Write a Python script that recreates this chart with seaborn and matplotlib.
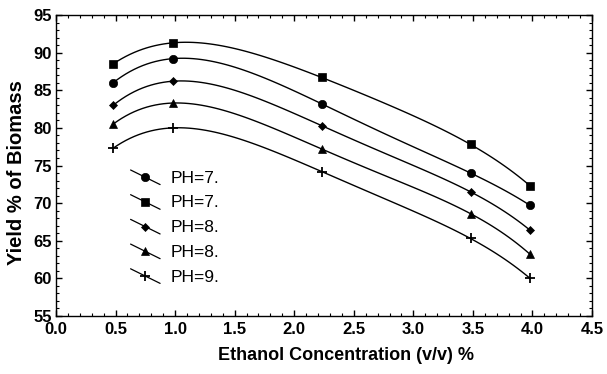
import matplotlib
matplotlib.use("Agg")
import matplotlib.pyplot as plt
from matplotlib.lines import Line2D
from matplotlib.legend_handler import HandlerLine2D
from matplotlib.ticker import MultipleLocator
import seaborn as sns
import numpy as np
import pandas as pd

# ---- data ----
conc = [0.48, 0.98, 2.23, 3.48, 3.98]
ph7_circle = [86.0, 89.2, 83.2, 74.0, 69.7]
ph7_square = [88.5, 91.3, 86.7, 77.8, 72.3]
ph8_diamond = [83.0, 86.2, 80.3, 71.5, 66.4]
ph8_triangle = [80.5, 83.3, 77.2, 68.6, 63.2]
ph9_plus = [77.3, 80.0, 74.2, 65.3, 60.0]
labels = ["PH=7.", "PH=7.", "PH=8.", "PH=8.", "PH=9."]
xticks = [0.0, 0.5, 1.0, 1.5, 2.0, 2.5, 3.0, 3.5, 4.0, 4.5]
yticks = [55, 60, 65, 70, 75, 80, 85, 90, 95]

series = [ph7_circle, ph7_square, ph8_diamond, ph8_triangle, ph9_plus]
markers = ["o", "s", "D", "^", "+"]
msizes = [6.0, 6.0, 4.2, 6.0, 7.5]

sns.set_theme(style="white")
plt.rcParams["font.family"] = ["Liberation Sans", "DejaVu Sans"]
plt.rcParams["text.color"] = "black"
plt.rcParams["axes.labelcolor"] = "black"
plt.rcParams["xtick.color"] = "black"
plt.rcParams["ytick.color"] = "black"

fig = plt.figure(figsize=(6.07, 3.74), dpi=100)
ax = fig.add_axes([56 / 607, 1 - 316 / 374, (592 - 56) / 607, (316 - 15) / 374])

handles = []
for vals, m, ms, lab in zip(series, markers, msizes, labels):
    df = pd.DataFrame({"x": conc, "y": vals})
    sns.regplot(data=df, x="x", y="y", order=4, ci=None, ax=ax, scatter=False,
                truncate=True, line_kws=dict(color="black", lw=1.0))
    ax.plot(df["x"], df["y"], linestyle="none", marker=m, markersize=ms,
            color="black", markeredgewidth=1.3 if m == "+" else 0.5)
    handles.append(Line2D([], [], marker=m, markersize=ms, color="black",
                          markeredgewidth=1.3 if m == "+" else 0.5, lw=0.9))


class DiagHandler(HandlerLine2D):
    def create_artists(self, legend, orig_handle, xdescent, ydescent, width,
                       height, fontsize, trans):
        x0 = -xdescent
        x1 = x0 + width
        y0 = -ydescent
        ln = Line2D([x0, x1], [y0 + height * 1.05, y0 - height * 0.15],
                    color="black", lw=0.9, transform=trans)
        mk = Line2D([(x0 + x1) / 2], [y0 + height * 0.45], linestyle="none",
                    marker=orig_handle.get_marker(),
                    markersize=orig_handle.get_markersize(),
                    markeredgewidth=orig_handle.get_markeredgewidth(),
                    color="black", transform=trans)
        return [ln, mk]


ax.legend(handles=handles, labels=labels, loc="upper left",
          bbox_to_anchor=(0.11, 0.535), frameon=False, fontsize=12.5,
          handlelength=1.7, handletextpad=0.6, labelspacing=0.55,
          handler_map={Line2D: DiagHandler()})

ax.set_xlim(0.0, 4.5)
ax.set_ylim(55, 95)
ax.set_xticks(xticks)
ax.set_yticks(yticks)
ax.set_xticklabels([f"{t:.1f}" for t in xticks])
ax.set_yticklabels([str(t) for t in yticks])
ax.xaxis.set_minor_locator(MultipleLocator(0.1))
ax.yaxis.set_minor_locator(MultipleLocator(1))
ax.tick_params(which="both", direction="in", top=True, right=True,
               bottom=True, left=True, color="black")
ax.tick_params(which="major", length=4, width=1.0, labelsize=12, pad=3)
ax.tick_params(axis="x", which="major", pad=4)
ax.tick_params(which="minor", length=2, width=0.8)
for lbl in ax.get_xticklabels() + ax.get_yticklabels():
    lbl.set_fontweight("bold")
for s in ax.spines.values():
    s.set_color("black")
    s.set_linewidth(1.0)

ax.set_xlabel("Ethanol Concentration (v/v) %", fontsize=13, fontweight="bold")
ax.set_ylabel("Yield % of Biomass", fontsize=14.5, fontweight="bold")
ax.xaxis.set_label_coords((346 - 56) / 536, (316 - 347) / 301)
ax.yaxis.set_label_coords((26 - 56) / 536, (316 - 173) / 301)

fig.savefig("out.png", dpi=100)
